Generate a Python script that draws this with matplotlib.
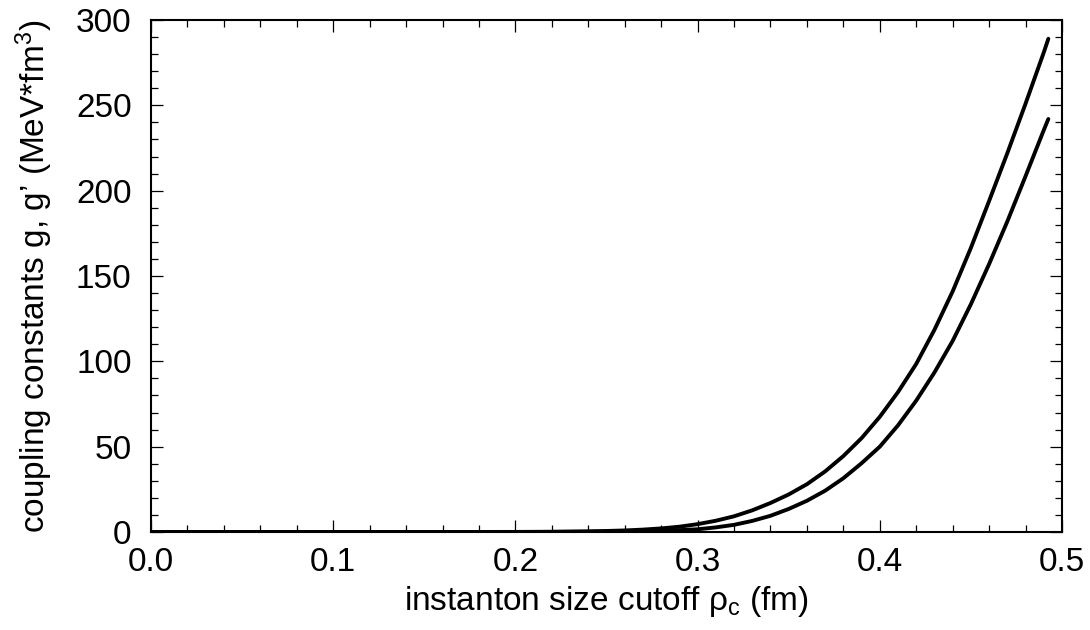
import matplotlib
matplotlib.use("Agg")
import matplotlib.pyplot as plt
import numpy as np

plt.rcParams['font.family'] = ['Liberation Sans', 'DejaVu Sans']
plt.rcParams['mathtext.fontset'] = 'custom'
plt.rcParams['mathtext.rm'] = 'Liberation Sans'
plt.rcParams['mathtext.it'] = 'Liberation Sans'
plt.rcParams['mathtext.bf'] = 'Liberation Sans:bold'

# instanton size cutoff rho_c (fm)
rho_c = [0.0, 0.05, 0.10, 0.15, 0.20, 0.22, 0.24, 0.25, 0.26, 0.27, 0.28, 0.29,
         0.30, 0.31, 0.32, 0.33, 0.34, 0.35, 0.36, 0.37, 0.38, 0.39, 0.40, 0.41,
         0.42, 0.43, 0.44, 0.45, 0.46, 0.47, 0.48, 0.49, 0.4925]
# coupling constant g (upper curve)
g_upper = [0.0, 0.0, 0.0, 0.0, 0.05, 0.15, 0.4, 0.6, 0.9, 1.4, 2.1, 3.1,
           4.6, 6.6, 9.2, 12.7, 17.0, 22.0, 28.0, 35.5, 44.5, 55.0, 67.5, 82.0,
           98.5, 118.5, 141.0, 166.5, 194.0, 222.0, 251.0, 281.0, 289.0]
# coupling constant g' (lower curve)
g_lower = [0.0, 0.0, 0.0, 0.0, 0.01, 0.04, 0.12, 0.22, 0.35, 0.5, 0.75, 1.1,
           1.6, 2.7, 4.2, 6.5, 9.5, 13.5, 18.3, 24.2, 31.5, 40.3, 50.0, 62.5,
           77.0, 93.5, 112.0, 133.5, 157.0, 182.0, 208.5, 235.5, 242.0]

xticks = [0.0, 0.1, 0.2, 0.3, 0.4, 0.5]
xticklabels = ["0.0", "0.1", "0.2", "0.3", "0.4", "0.5"]
yticks = [0, 50, 100, 150, 200, 250, 300]

fig = plt.figure(figsize=(10.9, 6.3), dpi=100)
ax = fig.add_axes([151/1090, 1-532/630, (1062-151)/1090, (532-20)/630])

ax.plot(rho_c, g_upper, color='black', lw=2.8, solid_capstyle='round',
        solid_joinstyle='round')
ax.plot(rho_c, g_lower, color='black', lw=2.8, solid_capstyle='round',
        solid_joinstyle='round')

ax.set_xlim(0, 0.5)
ax.set_ylim(0, 300)
ax.set_xticks(xticks)
ax.set_xticklabels(xticklabels)
ax.set_yticks(yticks)
ax.set_xticks(np.arange(0, 0.5001, 0.02), minor=True)
ax.set_yticks(np.arange(0, 300.1, 10), minor=True)

ax.tick_params(which='both', direction='in', top=True, right=True,
               labelsize=24, width=0.9)
ax.tick_params(which='major', length=8.5)
ax.tick_params(which='minor', length=5)
ax.tick_params(axis='x', pad=11)
ax.tick_params(axis='y', pad=14)
for s in ax.spines.values():
    s.set_linewidth(1.5)

ax.set_xlabel(r"instanton size cutoff $\rho_{\rm c}$ (fm)", fontsize=24, labelpad=4)
ax.set_ylabel(r"coupling constants g, g’ (MeV*fm$^3$)", fontsize=24, labelpad=15)

fig.savefig("out.png", dpi=100)
